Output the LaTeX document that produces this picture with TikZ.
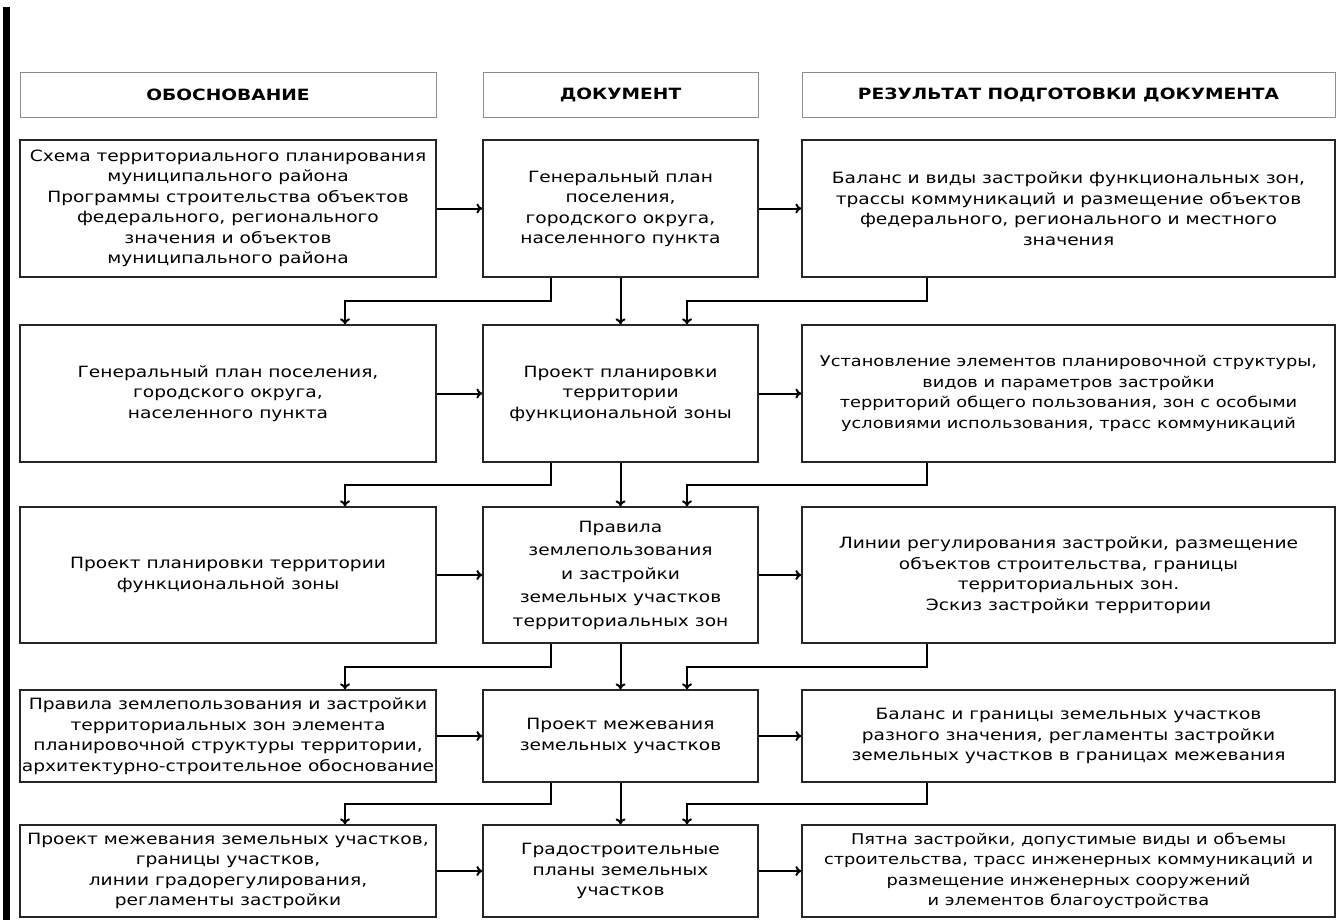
\documentclass[tikz,border=0pt]{standalone}
\usepackage{fontspec}
\setmainfont{DejaVu Sans}[FakeStretch=1.2]
\usetikzlibrary{arrows.meta,calc}
\begin{document}
\begin{tikzpicture}[x=1pt,y=-1pt,
  mainbox/.style={draw=black!85, line width=1.3pt, align=center, inner sep=1pt,
    font=\fontsize{15.5}{20.5}\selectfont},
  headbox/.style={draw=black!45, line width=0.8pt, minimum height=45pt, inner sep=2pt,
    font=\bfseries\fontsize{15.5}{20}\selectfont},
  colL/.style={minimum width=416pt},
  colM/.style={minimum width=275pt},
  colR/.style={minimum width=533pt},
  arr/.style={draw=black, line width=2pt, -{To[length=6pt,width=10pt]}},
]
\useasboundingbox (0,0) rectangle (1343,920);
\fill[black] (3,7) rectangle (10,920);

% headers
\node[headbox, colL] (hL) at (228,94.5) {ОБОСНОВАНИЕ};
\node[headbox, colM] (hM) at (620.5,94.5) {ДОКУМЕНТ};
\node[headbox, colR] (hR) at (1068.5,94.5) {РЕЗУЛЬТАТ ПОДГОТОВКИ ДОКУМЕНТА};

% row 1
\node[mainbox, colL, minimum height=137pt] (L1) at (228,208.5)
  {Схема территориального планирования\\муниципального района\\Программы строительства объектов\\федерального, регионального\\значения и объектов\\муниципального района};
\node[mainbox, colM, minimum height=137pt] (M1) at (620.5,208.5)
  {Генеральный план\\поселения,\\городского округа,\\населенного пункта};
\node[mainbox, colR, minimum height=137pt] (R1) at (1068.5,208.5)
  {Баланс и виды застройки функциональных зон,\\трассы коммуникаций и размещение объектов\\федерального, регионального и местного\\значения};

% row 2
\node[mainbox, colL, minimum height=137pt] (L2) at (228,393.5)
  {Генеральный план поселения,\\городского округа,\\населенного пункта};
\node[mainbox, colM, minimum height=137pt] (M2) at (620.5,393.5)
  {Проект планировки\\территории\\функциональной зоны};
\node[mainbox, colR, minimum height=137pt, font=\fontsize{14.8}{20.5}\selectfont] (R2) at (1068.5,393.5)
  {Установление элементов планировочной структуры,\\видов и параметров застройки\\территорий общего пользования, зон с особыми\\условиями использования, трасс коммуникаций};

% row 3
\node[mainbox, colL, minimum height=136pt] (L3) at (228,575)
  {Проект планировки территории\\функциональной зоны};
\node[mainbox, colM, minimum height=136pt, font=\fontsize{15.5}{23.5}\selectfont] (M3) at (620.5,575)
  {Правила\\землепользования\\и застройки\\земельных участков\\территориальных зон};
\node[mainbox, colR, minimum height=136pt] (R3) at (1068.5,575)
  {Линии регулирования застройки, размещение\\объектов строительства, границы\\территориальных зон.\\Эскиз застройки территории};

% row 4
\node[mainbox, colL, minimum height=92pt] (L4) at (228,736)
  {Правила землепользования и застройки\\территориальных зон элемента\\планировочной структуры территории,\\архитектурно-строительное обоснование};
\node[mainbox, colM, minimum height=92pt] (M4) at (620.5,736)
  {Проект межевания\\земельных участков};
\node[mainbox, colR, minimum height=92pt] (R4) at (1068.5,736)
  {Баланс и границы земельных участков\\разного значения, регламенты застройки\\земельных участков в границах межевания};

% row 5
\node[mainbox, colL, minimum height=92pt] (L5) at (228,871)
  {Проект межевания земельных участков,\\границы участков,\\линии градорегулирования,\\регламенты застройки};
\node[mainbox, colM, minimum height=92pt] (M5) at (620.5,871)
  {Градостроительные\\планы земельных\\участков};
\node[mainbox, colR, minimum height=92pt, font=\fontsize{14.8}{20.5}\selectfont] (R5) at (1068.5,871)
  {Пятна застройки, допустимые виды и объемы\\строительства, трасс инженерных коммуникаций и\\размещение инженерных сооружений\\и элементов благоустройства};

% horizontal arrows
\foreach \r in {1,...,5}{
  \draw[arr] (L\r.east) -- (M\r.west);
  \draw[arr] (M\r.east) -- (R\r.west);
}

% vertical connections
\foreach \a/\b in {1/2,2/3,3/4,4/5}{
  \coordinate (g\a) at ($(M\a.south)!.5!(M\b.north)$);
  \draw[arr] (M\a.south) -- (M\b.north);
  \draw[arr] ([xshift=69pt]M\a.south west) |- ([xshift=117pt]L\b.north |- g\a) -- ([xshift=117pt]L\b.north);
  \draw[arr] ([xshift=126pt]R\a.south west) |- ([xshift=66.5pt]M\b.north |- g\a) -- ([xshift=66.5pt]M\b.north);
}
\end{tikzpicture}
\end{document}
